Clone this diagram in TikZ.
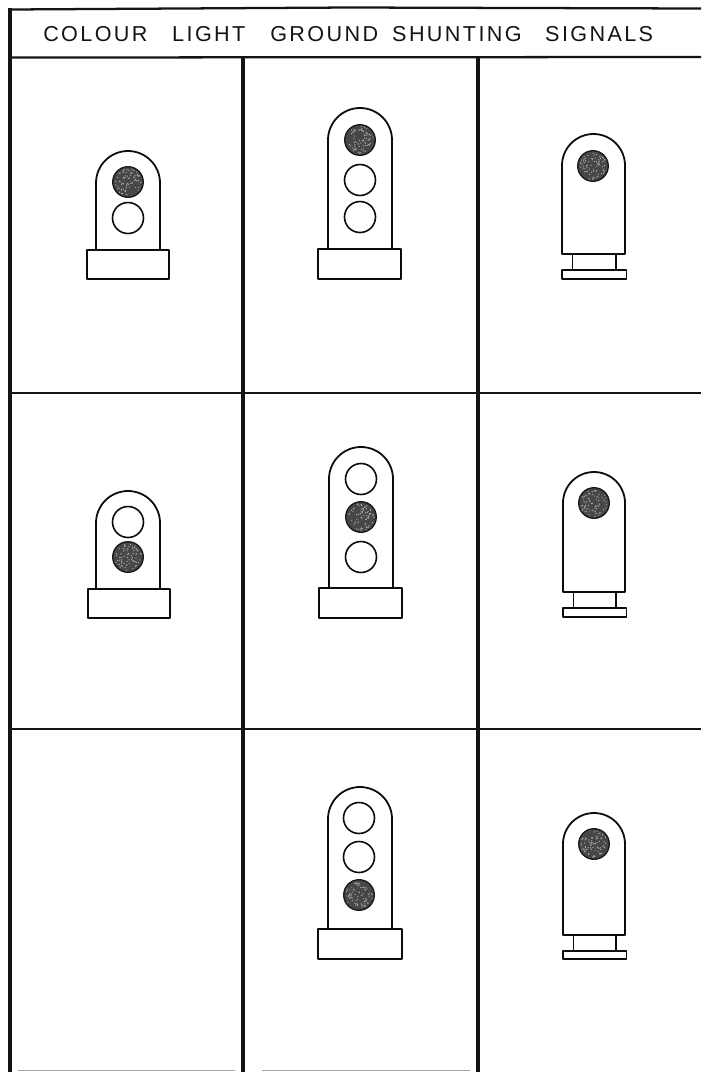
\documentclass[tikz,border=0pt]{standalone}
\usepackage{fontspec}
\setmainfont{Liberation Sans}
\newfontfamily\titlefont[LetterSpace=11]{Liberation Sans}
\tikzset{
  x=0.75pt,y=-0.75pt,
  gridbold/.style={draw=black!92,line width=3.1pt},
  gridthin/.style={draw=black!92,line width=1.7pt},
  gridfaint/.style={draw=black!35,line width=0.7pt},
  outline/.style={draw=black!95,line width=1.35pt,fill=white,line join=round},
  lampon/.style={draw=black!90,line width=1pt,fill=black!72},
  lampoff/.style={draw=black!95,line width=1.2pt,fill=white},
  speck/.style={fill=black!30},
  titletext/.style={inner sep=0pt,anchor=base west,font=\titlefont\fontsize{16.2pt}{18pt}\selectfont,text=black!92}
}
\pgfmathsetseed{4711}
% #1 left, #2 right, #3 top of head, #4 bottom of head
\newcommand{\headshape}[4]{%
  \draw[outline] (#1,#4) -- (#1,{#3+(#2-#1)/2})
    arc[start angle=180,end angle=360,x radius={(#2-#1)/2},y radius={(#2-#1)/2}] -- (#2,#4);}
% plinth: #1 left, #2 top, #3 right, #4 bottom
\newcommand{\plinth}[4]{\draw[outline] (#1,#2) rectangle (#3,#4);}
\newcommand{\lampOn}[2]{%
  \draw[lampon] (#1,#2) circle[radius=15.3];
  \foreach \i in {1,...,70}{%
    \pgfmathsetmacro{\ang}{rnd*360}%
    \pgfmathsetmacro{\rad}{sqrt(rnd)*13.5}%
    \fill[speck] ({#1+\rad*cos(\ang)},{#2+\rad*sin(\ang)}) circle[radius=0.65];}}
\newcommand{\lampOff}[2]{\draw[lampoff] (#1,#2) circle[radius=15.5];}
% short stem signal: #1 left, #2 right, #3 top, #4 body bottom, #5 foot top, #6 foot bottom
\newcommand{\stemsignal}[6]{%
  \draw[outline] ({#1+10.5},#4) -- ({#1+10.5},#5) ({#2-9},#4) -- ({#2-9},#5);
  \draw[outline] (#1,#4) -- (#1,{#3+(#2-#1)/2})
    arc[start angle=180,end angle=360,x radius={(#2-#1)/2},y radius={(#2-#1)/2}] -- (#2,#4) -- cycle;
  \plinth{#1}{#5}{{#2+1.5}}{#6}}
\begin{document}
\begin{tikzpicture}
\useasboundingbox (0,0) rectangle (701,1072);
% frame
\draw[gridthin] (10,9.5) -- (350,7.5) -- (701,8.5);
\draw[gridbold] (10,7.5) -- (10,1072);
\draw[gridthin] (10,57.5) -- (701,57);
\draw[gridbold] (243.3,57) -- (243.3,1072);
\draw[gridbold] (478,57) -- (478,1072);
\draw[gridthin] (10,393) -- (701,393);
\draw[gridthin] (10,729) -- (701,729);
\draw[gridfaint] (18,1070.7) -- (235,1070.7);
\draw[gridfaint] (262,1070.7) -- (470,1070.7);
% title
\node[titletext] (title) at (43,41.5) {\makebox[96.75pt][l]{COLOUR}\makebox[73.5pt][l]{LIGHT}\makebox[91.5pt][l]{GROUND}\makebox[114.75pt][l]{SHUNTING}SIGNALS};
% row 1
\headshape{96}{160}{151}{251}\plinth{87}{250}{169}{279}
\lampOn{128}{182}\lampOff{128}{218}
\headshape{328}{392}{108}{250}\plinth{318}{249}{401}{279}
\lampOn{360}{140}\lampOff{360}{180}\lampOff{360}{217}
\stemsignal{562}{625}{134}{254}{270}{279}
\lampOn{593}{166}
% row 2
\headshape{96}{160}{491}{590}\plinth{88}{589}{170}{618}
\lampOff{128}{522}\lampOn{128}{557}
\headshape{329}{393}{447}{589}\plinth{319}{588}{402}{618}
\lampOff{361}{479}\lampOn{361}{517}\lampOff{361}{557}
\stemsignal{563}{625}{472}{592}{608}{617}
\lampOn{594}{503}
% row 3
\headshape{328}{392}{787}{930}\plinth{318}{929}{402}{959}
\lampOff{359}{818}\lampOff{359}{857}\lampOn{359}{895}
\stemsignal{563}{625}{813}{935}{951}{959}
\lampOn{594}{844}
\end{tikzpicture}
\end{document}
